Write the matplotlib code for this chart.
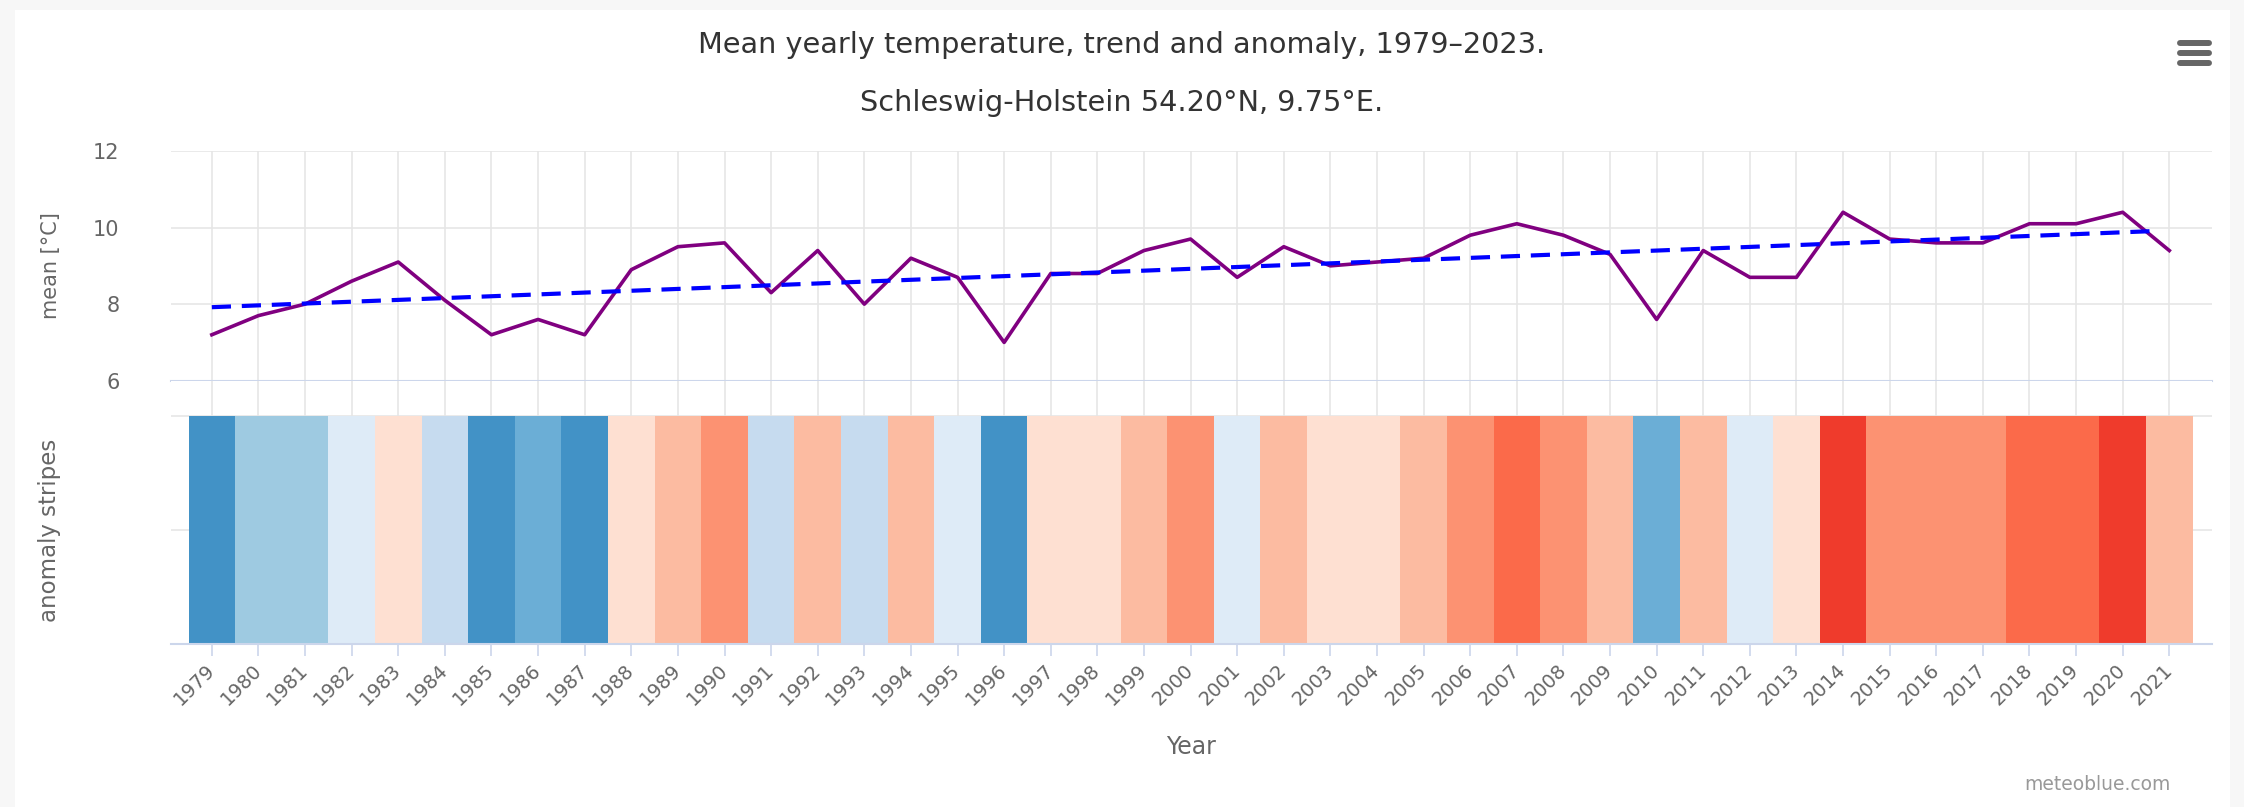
"""Mean yearly temperature with trend line and anomaly stripes (meteoblue style)."""

import matplotlib

matplotlib.use("Agg")
import matplotlib.pyplot as plt
from matplotlib.lines import Line2D
from matplotlib.patches import Rectangle

plt.rcParams["font.family"] = ["DejaVu Sans"]

YEARS = list(range(1979, 2022))
MEAN_TEMP = [
    7.2, 7.7, 8.0, 8.6, 9.1, 8.1, 7.2, 7.6, 7.2, 8.9,
    9.5, 9.6, 8.3, 9.4, 8.0, 9.2, 8.7, 7.0, 8.8, 8.8,
    9.4, 9.7, 8.7, 9.5, 9.0, 9.1, 9.2, 9.8, 10.1, 9.8,
    9.3, 7.6, 9.4, 8.7, 8.7, 10.4, 9.7, 9.6, 9.6, 10.1,
    10.1, 10.4, 9.4,
]
TREND_YEARS = [1979, 2020.7]
TREND_VALUES = [7.92, 9.91]
STRIPE_COLORS = [
    "#4292c6", "#9ecae1", "#9ecae1", "#deebf7", "#fee0d2", "#c6dbef", "#4292c6",
    "#6baed6", "#4292c6", "#fee0d2", "#fcbba1", "#fc9272", "#c6dbef", "#fcbba1",
    "#c6dbef", "#fcbba1", "#deebf7", "#4292c6", "#fee0d2", "#fee0d2", "#fcbba1",
    "#fc9272", "#deebf7", "#fcbba1", "#fee0d2", "#fee0d2", "#fcbba1", "#fc9272",
    "#fb6a4a", "#fc9272", "#fcbba1", "#6baed6", "#fcbba1", "#deebf7", "#fee0d2",
    "#ef3b2c", "#fc9272", "#fc9272", "#fc9272", "#fb6a4a", "#fb6a4a", "#ef3b2c",
    "#fcbba1",
]
TEMP_TICKS = [6, 8, 10, 12]

GRID_COLOR = "#e6e6e6"
AXIS_COLOR = "#ccd6eb"
LABEL_COLOR = "#666666"
W, H = 2244, 807

fig = plt.figure(figsize=(W / 100, H / 100), dpi=100)
fig.patch.set_facecolor("#f7f7f7")
fig.patches.append(Rectangle((15 / W, 0), (2230 - 15) / W, 1 - 10 / H,
                             transform=fig.transFigure, facecolor="white",
                             edgecolor="none", zorder=-10))

left, width = 171 / W, (2212 - 171) / W
xlim = (1978.124, 2021.916)

# top pane: temperature line and trend
ax_top = fig.add_axes([left, 1 - 380.7 / H, width, (380.7 - 151) / H])
ax_top.plot(YEARS, MEAN_TEMP, color="#800080", linewidth=2.6, zorder=3)
ax_top.plot(TREND_YEARS, TREND_VALUES, color="#0000ff", linewidth=3.0,
            dashes=(4.6, 2.6), zorder=4)
ax_top.set_xlim(*xlim)
ax_top.set_ylim(6, 12)
ax_top.set_yticks(TEMP_TICKS)
ax_top.set_xticks(YEARS)
ax_top.tick_params(axis="x", length=0, labelbottom=False)
ax_top.tick_params(axis="y", length=0, pad=37, labelsize=15, labelcolor=LABEL_COLOR)
ax_top.grid(True, color=GRID_COLOR, linewidth=1.2)
ax_top.set_axisbelow(True)
for side in ["left", "right", "top"]:
    ax_top.spines[side].set_visible(False)
ax_top.spines["bottom"].set_color(AXIS_COLOR)
ax_top.spines["bottom"].set_linewidth(1.5)
ax_top.set_ylabel("mean [°C]", fontsize=15, color=LABEL_COLOR)
ax_top.yaxis.set_label_coords((61 - 171) / (2212 - 171), 0.5)

# bottom pane: anomaly stripes
ax_bot = fig.add_axes([left, 1 - 644 / H, width, (644 - 380.7) / H])
ax_bot.bar(YEARS, [2] * len(YEARS), width=1.0, color=STRIPE_COLORS, zorder=2)
ax_bot.set_xlim(*xlim)
ax_bot.set_ylim(0, (644 - 380.7) / 114)
ax_bot.set_yticks([0, 1, 2])
ax_bot.tick_params(axis="y", length=0, labelleft=False)
ax_bot.set_xticks(YEARS)
ax_bot.set_xticklabels([str(y) for y in YEARS], rotation=45, ha="right",
                       va="center", rotation_mode="anchor", fontsize=14,
                       color=LABEL_COLOR)
ax_bot.tick_params(axis="x", length=8.5, width=1.2, color=AXIS_COLOR, pad=8)
ax_bot.grid(True, color=GRID_COLOR, linewidth=1.2)
ax_bot.set_axisbelow(True)
for side in ["left", "right", "top"]:
    ax_bot.spines[side].set_visible(False)
ax_bot.spines["bottom"].set_color(AXIS_COLOR)
ax_bot.spines["bottom"].set_linewidth(1.5)
ax_bot.set_ylabel("anomaly stripes", fontsize=16.5, color=LABEL_COLOR)
ax_bot.yaxis.set_label_coords((61 - 171) / (2212 - 171), 1 / ((644 - 380.7) / 114))
ax_bot.set_xlabel("Year", fontsize=17, color=LABEL_COLOR, labelpad=19)

fig.text(0.5, 1 - 45 / H, "Mean yearly temperature, trend and anomaly, 1979–2023.",
         ha="center", va="center", fontsize=20.7, color="#333333")
fig.text(0.5, 1 - 103 / H, "Schleswig-Holstein 54.20°N, 9.75°E.",
         ha="center", va="center", fontsize=20.7, color="#333333")
fig.text(2171 / W, 1 - 784 / H, "meteoblue.com", ha="right", va="center",
         fontsize=13.5, color="#999999")

# menu icon
for y_px in [42.7, 52.7, 62.7]:
    fig.add_artist(Line2D([2180 / W, 2209 / W], [1 - y_px / H, 1 - y_px / H],
                          transform=fig.transFigure, color="#666666",
                          linewidth=4.3, solid_capstyle="round"))

fig.savefig("out.png", dpi=100)
plt.close(fig)
